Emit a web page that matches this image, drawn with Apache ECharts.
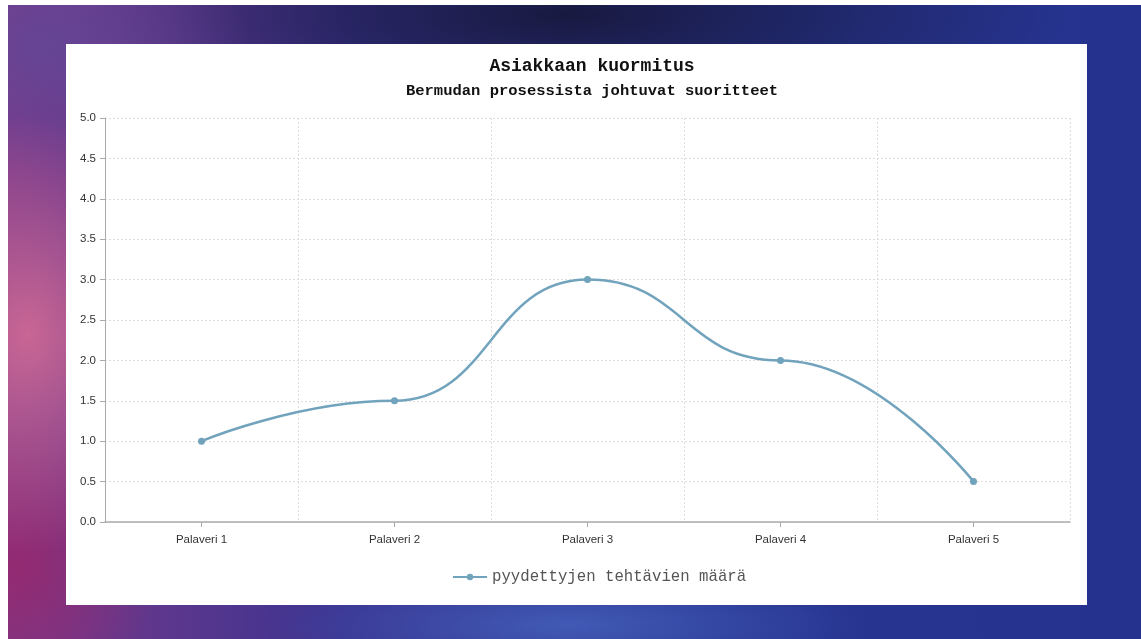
<!DOCTYPE html>
<html>
<head>
<meta charset="utf-8">
<script src="https://cdn.jsdelivr.net/npm/echarts@6/dist/echarts.min.js"></script>
<style>
  html, body { margin: 0; padding: 0; width: 1141px; height: 639px; overflow: hidden; background: #ffffff; }
  #bg {
    position: absolute; left: 8px; top: 5px; width: 1133px; height: 634px;
    background:
      radial-gradient(ellipse 160px 220px at 20px 330px, rgba(215,110,150,0.85), rgba(215,110,150,0) 100%),
      radial-gradient(ellipse 140px 160px at 10px 560px, rgba(150,40,110,0.9), rgba(150,40,110,0) 100%),
      radial-gradient(ellipse 200px 140px at 40px 40px, rgba(100,70,150,0.9), rgba(100,70,150,0) 100%),
      radial-gradient(ellipse 300px 60px at 560px 620px, rgba(70,100,190,0.8), rgba(70,100,190,0) 100%),
      radial-gradient(ellipse 500px 120px at 560px 10px, rgba(22,22,55,0.9), rgba(22,22,55,0) 100%),
      linear-gradient(90deg, #7a3a8a 0%, #3a3390 30%, #283592 60%, #26338e 100%);
  }
  #panel {
    position: absolute; left: 66px; top: 44px; width: 1021px; height: 561px; background: #ffffff;
  }
  #chart { width: 1021px; height: 561px; }
</style>
</head>
<body>
<div id="bg"></div>
<div id="panel"><div id="chart"></div></div>
<script>
const titleText = 'Asiakkaan kuormitus';
const subtitleText = 'Bermudan prosessista johtuvat suoritteet';
const categories = ['Palaveri 1', 'Palaveri 2', 'Palaveri 3', 'Palaveri 4', 'Palaveri 5'];
const seriesName = 'pyydettyjen tehtävien määrä';
const seriesValues = [1, 1.5, 3, 2, 0.5];
const yMin = 0, yMax = 5, yStep = 0.5;

const chart = echarts.init(document.getElementById('chart'), null, { renderer: 'canvas' });
chart.setOption({
  animation: false,
  backgroundColor: '#ffffff',
  title: [
    {
      text: titleText,
      left: 521, top: 8, textAlign: 'center',
      textStyle: { fontFamily: 'Liberation Mono', fontWeight: 'bold', fontSize: 18, color: '#111' }
    },
    {
      text: subtitleText,
      left: 521, top: 34, textAlign: 'center',
      textStyle: { fontFamily: 'Liberation Mono', fontWeight: 'bold', fontSize: 15.5, color: '#111' }
    }
  ],
  legend: {
    data: [seriesName],
    left: 381, top: 520,
    itemWidth: 34, itemHeight: 8, itemGap: 2,
    textStyle: { fontFamily: 'Liberation Mono', fontSize: 15.7, color: '#555' }
  },
  grid: { left: 39, right: 17, top: 74, bottom: 83, containLabel: false },
  xAxis: {
    type: 'category',
    data: categories,
    boundaryGap: true,
    axisLine: { lineStyle: { color: '#aaa', width: 1.5 } },
    axisTick: { show: true, alignWithLabel: true, length: 5, lineStyle: { color: '#aaa' } },
    axisLabel: { margin: 12, fontFamily: 'Liberation Sans', fontSize: 11.5, color: '#333' },
    splitLine: { show: true, lineStyle: { color: '#ddd', type: [2, 2], width: 1 } }
  },
  yAxis: {
    type: 'value',
    min: yMin, max: yMax, interval: yStep,
    axisLine: { show: true, lineStyle: { color: '#aaa', width: 1 } },
    axisTick: { show: true, length: 5, lineStyle: { color: '#aaa' } },
    axisLabel: { margin: 9, fontFamily: 'Liberation Sans', fontSize: 11.5, color: '#333',
                 formatter: v => v.toFixed(1) },
    splitLine: { show: true, lineStyle: { color: '#ddd', type: [2, 2], width: 1 } }
  },
  series: [{
    name: seriesName,
    type: 'line',
    data: seriesValues,
    smooth: 0.5,
    smoothMonotone: 'x',
    symbol: 'circle',
    symbolSize: 7,
    showAllSymbol: true,
    lineStyle: { color: '#71a3bd', width: 2.5 },
    itemStyle: { color: '#71a3bd' }
  }]
});
</script>
</body>
</html>
